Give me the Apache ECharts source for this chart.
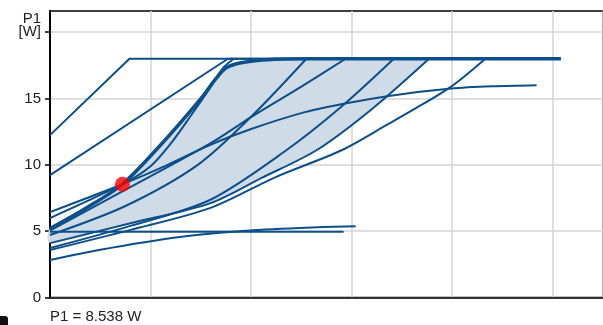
<!DOCTYPE html>
<html><head><meta charset="utf-8">
<script src="https://cdn.jsdelivr.net/npm/echarts@6/dist/echarts.min.js"></script>
<style>html,body{margin:0;padding:0;background:#fff}#c{width:603px;height:325px}</style>
</head><body><div id="c"></div>
<script>
// ---- data (x in flow units, y in P1 [W]) ----
const yTickValues = [0, 5, 10, 15, 20];
const yTickLabels = ['0', '5', '10', '15', 'P1\n[W]\n '];
const curveA = [[0,12.24],[0.79,18],[5.08,18]];
const curveB = [[0,9.23],[1.77,18],[5.08,18]];
const curveMax = [[0,5.2],[0.36,6.75],[0.72,8.54],[1.1,11.5],[1.49,14.9],[1.65,16.5],[1.75,17.3],[1.9,17.7],[2.2,17.95],[2.6,18],[5.08,18]];
const curveC = [[0,6.44],[0.72,8.54],[1.17,10.0],[1.59,11.5],[2.0,12.7],[2.5,13.9],[2.92,14.6],[3.37,15.2],[3.99,15.75],[4.4,15.92],[4.84,16.0]];
const curveX = [[0,5.99],[0.72,8.54],[1.0,9.9],[1.2,11.6],[1.4,13.7],[1.6,15.9],[1.72,17.3],[1.83,18]];
const curveH = [[0,4.71],[0.75,6.9],[1.47,10.0],[2.01,13.7],[2.55,18]];
const curveJ = [[0,5.05],[0.72,8.0],[1.59,11.6],[2.0,13.6],[2.5,15.9],[2.94,18]];
const curveMin = [[0,4.1],[0.8,5.6],[1.59,7.1],[2.1,9.0],[2.65,11.1],[3.2,14.2],[3.77,18]];
const curveF = [[0,3.73],[0.8,5.4],[1.59,7.35],[2.35,11.1],[2.9,14.4],[3.42,18]];
const curveG = [[0,3.58],[0.8,5.1],[1.59,6.74],[2.25,9.1],[2.9,11.1],[3.37,13.1],[3.6,14.1],[3.99,15.9],[4.33,18]];
const curveLow = [[0,2.82],[0.5,3.6],[1.29,4.56],[1.91,5.01],[2.48,5.24],[3.04,5.38]];
const curveFlat = [[0,4.96],[2.92,4.96]];
const opPoint = [[0.72,8.538]];
const readout = 'P1 = 8.538 W';

const BLUE = '#0d4f8b';
const chart = echarts.init(document.getElementById('c'), null, {renderer:'canvas'});

function thin(data, smooth){
  return {type:'line', data:data, symbol:'none', smooth:smooth?0.3:false,
    lineStyle:{color:BLUE, width:2}, z:3, silent:true, animation:false};
}
const shadePoly = curveMax.filter(p=>p[0]<=3.77).concat([[3.77,18]]).concat(curveMin.slice().reverse());

chart.setOption({
  animation:false,
  grid:{left:50, top:11, width:555, height:286.5, show:true, borderColor:'#000', borderWidth:1.5},
  xAxis:{type:'value', min:0, max:5.5, interval:1,
    axisLine:{show:true, onZero:false, lineStyle:{color:'#333', width:2}},
    axisTick:{show:false}, axisLabel:{show:false},
    splitLine:{show:true, lineStyle:{color:'#d4d4d4', width:1.5}}},
  yAxis:{type:'value', min:0, max:21.6, interval:5,
    axisLine:{show:true, onZero:false, lineStyle:{color:'#000', width:2}},
    axisTick:{show:true, length:5, customValues:yTickValues, lineStyle:{color:'#000', width:1.5}},
    axisLabel:{customValues:yTickValues, margin:9, fontSize:15, color:'#222', fontFamily:'Liberation Sans, Arial', lineHeight:13,
      formatter:function(v){ const i = yTickValues.indexOf(v); return i>=0 ? yTickLabels[i] : ''; }},
    splitLine:{show:true, lineStyle:{color:'#d4d4d4', width:1.5}}},
  series:[
    {type:'custom', silent:true, z:1, data:[0],
      renderItem:function(params, api){
        const pts = shadePoly.map(p=>api.coord(p));
        return {type:'polygon', shape:{points:pts, smooth:0.3}, style:{fill:'#cfdbe7', stroke:null}};
      }},
    thin(curveA,false), thin(curveB,false), thin(curveC,true), thin(curveX,true), thin(curveH,true), thin(curveJ,true),
    thin(curveMin,true), thin(curveF,true), thin(curveG,true), thin(curveLow,true), thin(curveFlat,false),
    {type:'line', data:curveMax, symbol:'none', smooth:0.3, lineStyle:{color:BLUE, width:3.5}, z:4, silent:true},
    {type:'scatter', data:opPoint, symbol:'circle', symbolSize:15, itemStyle:{color:'#ff0000'}, z:6, silent:true}
  ],
  graphic:[
    {type:'text', left:50, top:309, style:{text:readout, font:'15px "Liberation Sans", Arial', fill:'#222'}},
    {type:'rect', shape:{x:0, y:316, width:8, height:12, r:[0,3,0,0]}, style:{fill:'#111'}}
  ]
});
</script></body></html>
